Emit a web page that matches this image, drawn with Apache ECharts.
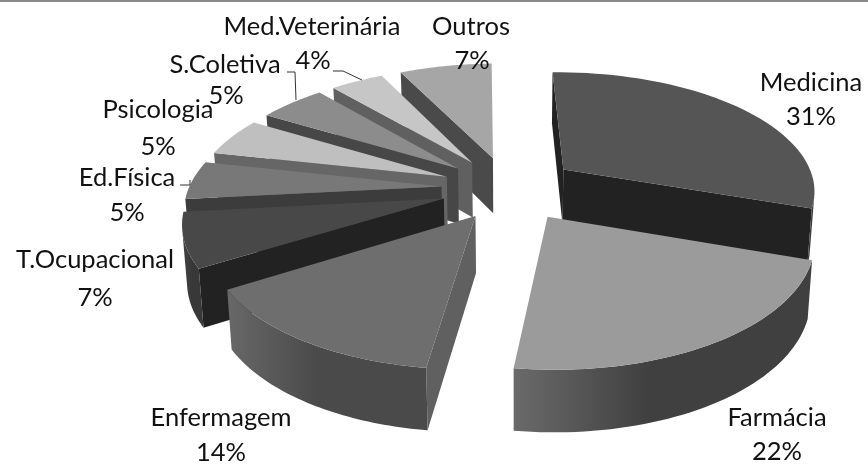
<!DOCTYPE html>
<html>
<head>
<meta charset="utf-8">
<style>html,body{margin:0;background:#fff}#chart{width:868px;height:464px}</style>
<script src="https://cdn.jsdelivr.net/npm/echarts@6/dist/echarts.min.js"></script>
</head>
<body>
<div id="chart"></div>
<script>
// dados
var categories = ['Medicina','Farmácia','Enfermagem','T.Ocupacional','Ed.Física','Psicologia','S.Coletiva','Med.Veterinária','Outros'];
var values = [31,22,14,7,5,5,5,4,7];
// ordem de desenho, de tras para frente
var drawOrder = [0,8,7,6,5,4,3,2,1];

// cores de cada fatia
var topColors  = ['#555555','#9b9b9b','#6e6e6e','#484848','#787878','#bfbfbf','#8c8c8c','#c6c6c6','#a6a6a6'];
var faceColors = ['#222222','#5a5a5a','#606060','#222222','#3c3c3c','#666666','#474747','#606060','#4a4a4a'];
var rimLeft    = ['#3e3e3e','#6a6a6a','#686868','#444444','#444444','#555555','#444444','#555555','#444444'];
var rimRight   = ['#3e3e3e','#404040','#4a4a4a','#383838','#444444','#555555','#444444','#555555','#444444'];

// rotulos: centro de cada linha [x, y1, x2, y2]
var labelPos = [[811,83,811,117],[777,418,777,452],[221,418,221,453],[95,260,95,298],[127,178,127,213],[158,110,158,147],[225,65,226,96],[312,27,313,61],[471,27,472,61]];
var leaders = [[[333,71],[343,71],[362,80]],[[287,72],[295,72],[296,100]],[[180,185],[190,185],[190,180]]];

// projecao em perspectiva (ajustada pela figura)
var cam = {cx:514.9,cy:188.2,A:252.5,B:118.6,k:0.16,j:0.013,explode:0.271,rot:-2.33,H:56,kH:0.085,shrink:0.985,apexDx:-5};
// pequeno ajuste horizontal por fatia
var sliceDx = [0,1,5,0,0,0,0,0,0];

function project(x,y,low){
  var w = 1+cam.k*y+cam.j*x;
  var sx = cam.cx+cam.A*x/w;
  var sy = cam.cy-cam.B*y/w;
  if(low){
    sx = cam.cx+(sx-cam.cx)*cam.shrink;
    sy += cam.H/(1+cam.kH*y);
  }
  return [sx,sy];
}
function area(p){
  var t=0;
  for(var i=0;i<p.length;i++){
    var q=p[(i+1)%p.length];
    t+=p[i][0]*q[1]-q[0]*p[i][1];
  }
  return t;
}
function renderSlice(params,api){
  var idx=api.value(1);
  var before=0;
  for(var n=0;n<idx;n++) before+=values[n];
  var rad=Math.PI/180;
  var a=(before*3.6+cam.rot)*rad;
  var b=((before+api.value(0))*3.6+cam.rot)*rad;
  var m=(a+b)/2;
  var ox=cam.explode*Math.sin(m), oy=cam.explode*Math.cos(m);
  var steps=48, topArc=[], lowArc=[];
  for(var i=0;i<=steps;i++){
    var t=a+(b-a)*i/steps;
    topArc.push(project(ox+Math.sin(t),oy+Math.cos(t),false));
    lowArc.push(project(ox+Math.sin(t),oy+Math.cos(t),true));
  }
  var apexTop=project(ox,oy,false), apexLow=project(ox,oy,true);
  apexTop[0]+=cam.apexDx;
  apexLow[0]+=cam.apexDx;
  var children=[];
  function poly(points,fill){
    children.push({type:'polygon',shape:{points:points},style:{fill:fill,stroke:null},silent:true});
  }
  // faces radiais
  var startFace=[apexTop,topArc[0],lowArc[0],apexLow];
  var endFace=[apexTop,topArc[steps],lowArc[steps],apexLow];
  if(area(startFace)<0) poly(startFace,faceColors[idx]);
  if(area(endFace)>0) poly(endFace,faceColors[idx]);
  // borda externa
  var first=-1,last=-1;
  for(var s=0;s<steps;s++){
    if(area([topArc[s],topArc[s+1],lowArc[s+1],lowArc[s]])<0){
      if(first<0) first=s;
      last=s+1;
    }
  }
  if(first>=0){
    var rim=topArc.slice(first,last+1).concat(lowArc.slice(first,last+1).reverse());
    poly(rim,new echarts.graphic.LinearGradient(0,0,1,0,[
      {offset:0,color:rimLeft[idx]},{offset:0.45,color:rimRight[idx]},{offset:1,color:rimRight[idx]}
    ]));
  }
  // topo
  poly([apexTop].concat(topArc),topColors[idx]);
  return {type:'group',x:sliceDx[idx],children:children};
}

var textStyle={fontFamily:'Lato',fontSize:25.5,fill:'#111111',textAlign:'center',textVerticalAlign:'middle'};
var graphics=[{type:'rect',z:100,shape:{x:0,y:0,width:868,height:2},style:{fill:'#888888'},silent:true}];
categories.forEach(function(c,i){
  var p=labelPos[i];
  graphics.push({type:'text',z:100,x:p[0],y:p[1],style:Object.assign({text:c},textStyle),silent:true});
  graphics.push({type:'text',z:100,x:p[2],y:p[3],style:Object.assign({text:values[i]+'%'},textStyle),silent:true});
});
leaders.forEach(function(l){
  graphics.push({type:'polyline',z:100,shape:{points:l},style:{stroke:'#333333',lineWidth:1,fill:null},silent:true});
});

var mychart=echarts.init(document.getElementById('chart'));
mychart.setOption({
  animation:false,
  backgroundColor:'#fff',
  tooltip:{show:false},
  graphic:graphics,
  series:[{
    type:'custom',
    coordinateSystem:'none',
    renderItem:renderSlice,
    data:drawOrder.map(function(i){return {name:categories[i],value:[values[i],i]};})
  }]
});
</script>
</body>
</html>
